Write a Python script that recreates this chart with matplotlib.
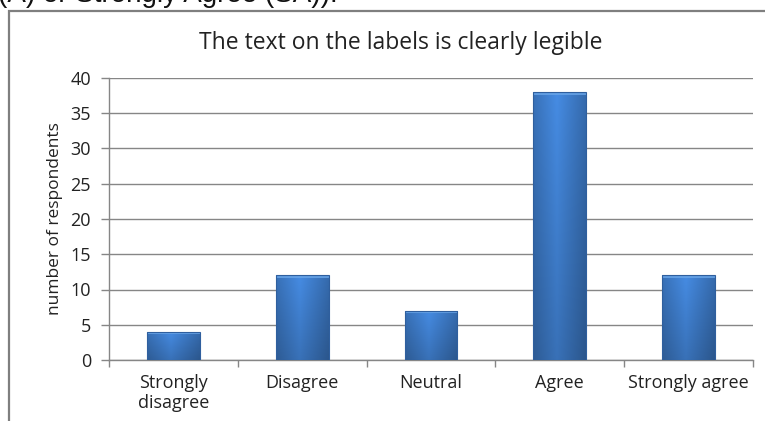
#bar chart: label legibility survey
import matplotlib.pyplot as plt
import numpy as np
from matplotlib.patches import Rectangle

categories = ['Strongly\ndisagree', 'Disagree', 'Neutral', 'Agree', 'Strongly agree']
respondents = [4, 12, 7, 38, 12]
y_ticks = [0, 5, 10, 15, 20, 25, 30, 35, 40]
title = 'The text on the labels is clearly legible'
y_label = 'number of respondents'

plt.rcParams['font.family'] = ['Open Sans', 'DejaVu Sans']

fig = plt.figure(figsize=(7.65, 4.21), dpi=100)
ax = fig.add_axes([109 / 765, 1 - 360 / 421, 644 / 765, 282 / 421])

x = np.arange(len(categories))
bars = ax.bar(x, respondents, width=0.41, color='#3b78c6', edgecolor='none', zorder=3)

# gradient fill for the bevelled look
h = np.linspace(0, 1, 40)
horiz = 1.04 - 0.22 * np.abs(h - 0.45) * 2
base = np.array([0x40, 0x80, 0xd0]) / 255.0
for b in bars:
    bx, by = b.get_x(), b.get_y()
    bw, bh = b.get_width(), b.get_height()
    vert = np.linspace(1.05, 0.85, 60)[:, None]
    shade = horiz[None, :] * vert
    img = np.clip(shade[..., None] * base[None, None, :], 0, 1)
    im = ax.imshow(img, extent=[bx, bx + bw, by, by + bh], origin='upper',
                   aspect='auto', zorder=4, interpolation='bilinear')
    im.set_clip_path(b)
    # light bevel on top
    ax.add_patch(Rectangle((bx, by + bh - 0.35), bw, 0.35, facecolor='#6aa6e8',
                           edgecolor='none', alpha=0.8, zorder=5))
    ax.add_patch(Rectangle((bx, by), bw, bh, fill=False, edgecolor='#2f5f9e',
                           linewidth=0.8, zorder=6))

ax.set_xlim(-0.5, len(categories) - 0.5)
ax.set_ylim(0, 40)
ax.set_yticks(y_ticks)
ax.set_yticklabels([str(v) for v in y_ticks], fontsize=13, color='#222222')
ax.set_xticks(x)
ax.set_xticklabels(categories, fontsize=13, color='#222222', linespacing=1.15)
ax.set_xticks(np.arange(len(categories) + 1) - 0.5, minor=True)
ax.tick_params(axis='x', which='major', length=0, pad=10)
ax.tick_params(axis='x', which='minor', length=5, color='#868686', width=1)
ax.tick_params(axis='y', length=6, color='#868686', width=1, pad=7)

ax.grid(axis='y', color='#868686', linewidth=1, zorder=0)
ax.set_axisbelow(True)
for s in ['top', 'right']:
    ax.spines[s].set_visible(False)
for s in ['left', 'bottom']:
    ax.spines[s].set_color('#868686')
    ax.spines[s].set_linewidth(1)

ax.set_ylabel(y_label, fontsize=12.5, color='#222222', labelpad=5)
fig.text(401 / 765, 1 - 43 / 421, title, ha='center', va='center', fontsize=16.5,
         color='#222222')

# outer chart border
fig.add_artist(Rectangle((9 / 765, -0.2), 1.2, 1.2 - 11 / 421, fill=False,
                         edgecolor='#7f7f7f', linewidth=1.6,
                         transform=fig.transFigure))

# clipped text from the surrounding page
fig.text(-0.002, 1 - 2.5 / 421, '(A) or Strongly Agree (SA)).', ha='left', va='baseline',
         fontsize=20, family='Liberation Sans', color='#111111')

fig.savefig('out.png', dpi=100)
